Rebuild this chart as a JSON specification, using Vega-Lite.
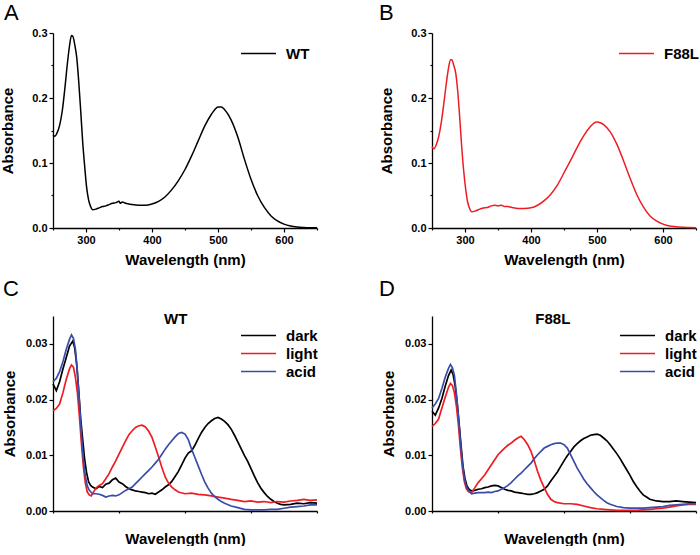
{
  "$schema": "https://vega.github.io/schema/vega-lite/v6.json",
  "background": "white",
  "padding": {"left": 0, "top": 2, "right": 0, "bottom": 0},
  "columns": 2,
  "bounds": "flush",
  "spacing": {"row": 88, "column": 115},
  "datasets": {
    "wt": [
      {"wl": 250, "abs": 0.143}, {"wl": 253, "abs": 0.141}, {"wl": 256, "abs": 0.146}, {"wl": 260, "abs": 0.158},
      {"wl": 264, "abs": 0.180}, {"wl": 268, "abs": 0.215}, {"wl": 272, "abs": 0.255}, {"wl": 275, "abs": 0.280},
      {"wl": 278, "abs": 0.296}, {"wl": 280, "abs": 0.295}, {"wl": 283, "abs": 0.282}, {"wl": 286, "abs": 0.262},
      {"wl": 289, "abs": 0.225}, {"wl": 292, "abs": 0.180}, {"wl": 295, "abs": 0.132}, {"wl": 298, "abs": 0.095},
      {"wl": 301, "abs": 0.062}, {"wl": 304, "abs": 0.043}, {"wl": 307, "abs": 0.033}, {"wl": 310, "abs": 0.028},
      {"wl": 315, "abs": 0.029}, {"wl": 320, "abs": 0.031}, {"wl": 325, "abs": 0.033}, {"wl": 330, "abs": 0.034},
      {"wl": 335, "abs": 0.036}, {"wl": 340, "abs": 0.038}, {"wl": 345, "abs": 0.039}, {"wl": 350, "abs": 0.041},
      {"wl": 352, "abs": 0.038}, {"wl": 355, "abs": 0.040}, {"wl": 360, "abs": 0.038}, {"wl": 365, "abs": 0.037},
      {"wl": 370, "abs": 0.036}, {"wl": 380, "abs": 0.035}, {"wl": 390, "abs": 0.035}, {"wl": 400, "abs": 0.037},
      {"wl": 410, "abs": 0.041}, {"wl": 420, "abs": 0.048}, {"wl": 430, "abs": 0.059}, {"wl": 440, "abs": 0.073},
      {"wl": 450, "abs": 0.090}, {"wl": 460, "abs": 0.111}, {"wl": 470, "abs": 0.134}, {"wl": 480, "abs": 0.157},
      {"wl": 490, "abs": 0.175}, {"wl": 495, "abs": 0.182}, {"wl": 500, "abs": 0.186}, {"wl": 505, "abs": 0.186},
      {"wl": 510, "abs": 0.182}, {"wl": 520, "abs": 0.166}, {"wl": 530, "abs": 0.140}, {"wl": 540, "abs": 0.106},
      {"wl": 550, "abs": 0.075}, {"wl": 560, "abs": 0.050}, {"wl": 570, "abs": 0.032}, {"wl": 580, "abs": 0.019},
      {"wl": 590, "abs": 0.011}, {"wl": 600, "abs": 0.006}, {"wl": 610, "abs": 0.003}, {"wl": 620, "abs": 0.0015},
      {"wl": 630, "abs": 0.0008}, {"wl": 640, "abs": 0.0004}, {"wl": 650, "abs": 0.0002}
    ],
    "f88l": [
      {"wl": 250, "abs": 0.125}, {"wl": 253, "abs": 0.122}, {"wl": 256, "abs": 0.127}, {"wl": 260, "abs": 0.140},
      {"wl": 264, "abs": 0.162}, {"wl": 268, "abs": 0.192}, {"wl": 272, "abs": 0.225}, {"wl": 275, "abs": 0.246},
      {"wl": 278, "abs": 0.259}, {"wl": 280, "abs": 0.259}, {"wl": 283, "abs": 0.250}, {"wl": 286, "abs": 0.238},
      {"wl": 289, "abs": 0.210}, {"wl": 292, "abs": 0.170}, {"wl": 295, "abs": 0.125}, {"wl": 298, "abs": 0.088},
      {"wl": 301, "abs": 0.060}, {"wl": 304, "abs": 0.040}, {"wl": 307, "abs": 0.030}, {"wl": 310, "abs": 0.025},
      {"wl": 315, "abs": 0.026}, {"wl": 320, "abs": 0.028}, {"wl": 325, "abs": 0.030}, {"wl": 330, "abs": 0.031},
      {"wl": 335, "abs": 0.032}, {"wl": 340, "abs": 0.034}, {"wl": 345, "abs": 0.035}, {"wl": 350, "abs": 0.034},
      {"wl": 355, "abs": 0.035}, {"wl": 360, "abs": 0.033}, {"wl": 365, "abs": 0.033}, {"wl": 370, "abs": 0.032},
      {"wl": 380, "abs": 0.030}, {"wl": 390, "abs": 0.030}, {"wl": 400, "abs": 0.031}, {"wl": 410, "abs": 0.035},
      {"wl": 420, "abs": 0.042}, {"wl": 430, "abs": 0.052}, {"wl": 440, "abs": 0.066}, {"wl": 450, "abs": 0.085},
      {"wl": 460, "abs": 0.104}, {"wl": 470, "abs": 0.124}, {"wl": 480, "abs": 0.142}, {"wl": 490, "abs": 0.156},
      {"wl": 495, "abs": 0.161}, {"wl": 500, "abs": 0.163}, {"wl": 505, "abs": 0.162}, {"wl": 510, "abs": 0.159},
      {"wl": 520, "abs": 0.148}, {"wl": 530, "abs": 0.129}, {"wl": 540, "abs": 0.104}, {"wl": 550, "abs": 0.077},
      {"wl": 560, "abs": 0.052}, {"wl": 570, "abs": 0.033}, {"wl": 580, "abs": 0.019}, {"wl": 590, "abs": 0.011},
      {"wl": 600, "abs": 0.006}, {"wl": 610, "abs": 0.003}, {"wl": 620, "abs": 0.002}, {"wl": 630, "abs": 0.001},
      {"wl": 640, "abs": 0.0006}, {"wl": 650, "abs": 0.0003}
    ],
    "wtStates": [
      {"wl": 250, "state": "dark", "abs": 0.0228}, {"wl": 255, "state": "dark", "abs": 0.0216}, {"wl": 260, "state": "dark", "abs": 0.0232},
      {"wl": 265, "state": "dark", "abs": 0.0255}, {"wl": 270, "state": "dark", "abs": 0.0275}, {"wl": 275, "state": "dark", "abs": 0.0296},
      {"wl": 280, "state": "dark", "abs": 0.0305}, {"wl": 283, "state": "dark", "abs": 0.0292}, {"wl": 286, "state": "dark", "abs": 0.0262},
      {"wl": 289, "state": "dark", "abs": 0.0215}, {"wl": 292, "state": "dark", "abs": 0.0165}, {"wl": 295, "state": "dark", "abs": 0.0128},
      {"wl": 298, "state": "dark", "abs": 0.0092}, {"wl": 301, "state": "dark", "abs": 0.0068}, {"wl": 304, "state": "dark", "abs": 0.0052},
      {"wl": 307, "state": "dark", "abs": 0.0046}, {"wl": 310, "state": "dark", "abs": 0.0043}, {"wl": 315, "state": "dark", "abs": 0.0040},
      {"wl": 320, "state": "dark", "abs": 0.0044}, {"wl": 325, "state": "dark", "abs": 0.0042}, {"wl": 330, "state": "dark", "abs": 0.0048},
      {"wl": 335, "state": "dark", "abs": 0.0050}, {"wl": 340, "state": "dark", "abs": 0.0056}, {"wl": 345, "state": "dark", "abs": 0.0059},
      {"wl": 350, "state": "dark", "abs": 0.0052}, {"wl": 355, "state": "dark", "abs": 0.0049}, {"wl": 360, "state": "dark", "abs": 0.0044},
      {"wl": 365, "state": "dark", "abs": 0.0040}, {"wl": 370, "state": "dark", "abs": 0.0038}, {"wl": 375, "state": "dark", "abs": 0.0036},
      {"wl": 380, "state": "dark", "abs": 0.0035}, {"wl": 385, "state": "dark", "abs": 0.0034}, {"wl": 390, "state": "dark", "abs": 0.0033},
      {"wl": 395, "state": "dark", "abs": 0.0031}, {"wl": 400, "state": "dark", "abs": 0.0032}, {"wl": 405, "state": "dark", "abs": 0.0030},
      {"wl": 410, "state": "dark", "abs": 0.0034}, {"wl": 415, "state": "dark", "abs": 0.0038}, {"wl": 420, "state": "dark", "abs": 0.0043},
      {"wl": 425, "state": "dark", "abs": 0.0047}, {"wl": 430, "state": "dark", "abs": 0.0053}, {"wl": 435, "state": "dark", "abs": 0.0062},
      {"wl": 440, "state": "dark", "abs": 0.0071}, {"wl": 445, "state": "dark", "abs": 0.0083}, {"wl": 450, "state": "dark", "abs": 0.0095},
      {"wl": 455, "state": "dark", "abs": 0.0104}, {"wl": 460, "state": "dark", "abs": 0.0108}, {"wl": 465, "state": "dark", "abs": 0.0118},
      {"wl": 470, "state": "dark", "abs": 0.0130}, {"wl": 475, "state": "dark", "abs": 0.0141}, {"wl": 480, "state": "dark", "abs": 0.0150},
      {"wl": 485, "state": "dark", "abs": 0.0157}, {"wl": 490, "state": "dark", "abs": 0.0162}, {"wl": 495, "state": "dark", "abs": 0.0166},
      {"wl": 500, "state": "dark", "abs": 0.0168}, {"wl": 505, "state": "dark", "abs": 0.0165}, {"wl": 510, "state": "dark", "abs": 0.0161},
      {"wl": 515, "state": "dark", "abs": 0.0155}, {"wl": 520, "state": "dark", "abs": 0.0147}, {"wl": 525, "state": "dark", "abs": 0.0136},
      {"wl": 530, "state": "dark", "abs": 0.0124}, {"wl": 535, "state": "dark", "abs": 0.0112}, {"wl": 540, "state": "dark", "abs": 0.0100},
      {"wl": 545, "state": "dark", "abs": 0.0089}, {"wl": 550, "state": "dark", "abs": 0.0076}, {"wl": 555, "state": "dark", "abs": 0.0063},
      {"wl": 560, "state": "dark", "abs": 0.0051}, {"wl": 565, "state": "dark", "abs": 0.0041}, {"wl": 570, "state": "dark", "abs": 0.0033},
      {"wl": 575, "state": "dark", "abs": 0.0026}, {"wl": 580, "state": "dark", "abs": 0.0021}, {"wl": 585, "state": "dark", "abs": 0.0017},
      {"wl": 590, "state": "dark", "abs": 0.0014}, {"wl": 595, "state": "dark", "abs": 0.0012}, {"wl": 600, "state": "dark", "abs": 0.0011},
      {"wl": 610, "state": "dark", "abs": 0.0012}, {"wl": 620, "state": "dark", "abs": 0.0014}, {"wl": 630, "state": "dark", "abs": 0.0013},
      {"wl": 640, "state": "dark", "abs": 0.0015}, {"wl": 650, "state": "dark", "abs": 0.0014},

      {"wl": 250, "state": "light", "abs": 0.0180}, {"wl": 255, "state": "light", "abs": 0.0184}, {"wl": 260, "state": "light", "abs": 0.0192},
      {"wl": 265, "state": "light", "abs": 0.0212}, {"wl": 270, "state": "light", "abs": 0.0236}, {"wl": 275, "state": "light", "abs": 0.0255},
      {"wl": 278, "state": "light", "abs": 0.0262}, {"wl": 281, "state": "light", "abs": 0.0258}, {"wl": 284, "state": "light", "abs": 0.0240},
      {"wl": 287, "state": "light", "abs": 0.0212}, {"wl": 290, "state": "light", "abs": 0.0170}, {"wl": 293, "state": "light", "abs": 0.0122},
      {"wl": 296, "state": "light", "abs": 0.0080}, {"wl": 299, "state": "light", "abs": 0.0050}, {"wl": 302, "state": "light", "abs": 0.0034},
      {"wl": 305, "state": "light", "abs": 0.0029}, {"wl": 308, "state": "light", "abs": 0.0027}, {"wl": 311, "state": "light", "abs": 0.0033},
      {"wl": 315, "state": "light", "abs": 0.0041}, {"wl": 320, "state": "light", "abs": 0.0046}, {"wl": 325, "state": "light", "abs": 0.0049},
      {"wl": 330, "state": "light", "abs": 0.0058}, {"wl": 335, "state": "light", "abs": 0.0067}, {"wl": 340, "state": "light", "abs": 0.0079},
      {"wl": 345, "state": "light", "abs": 0.0090}, {"wl": 350, "state": "light", "abs": 0.0102}, {"wl": 355, "state": "light", "abs": 0.0114},
      {"wl": 360, "state": "light", "abs": 0.0126}, {"wl": 365, "state": "light", "abs": 0.0137}, {"wl": 370, "state": "light", "abs": 0.0144},
      {"wl": 375, "state": "light", "abs": 0.0150}, {"wl": 380, "state": "light", "abs": 0.0153}, {"wl": 385, "state": "light", "abs": 0.0154},
      {"wl": 390, "state": "light", "abs": 0.0151}, {"wl": 395, "state": "light", "abs": 0.0143}, {"wl": 400, "state": "light", "abs": 0.0132},
      {"wl": 405, "state": "light", "abs": 0.0115}, {"wl": 410, "state": "light", "abs": 0.0097}, {"wl": 415, "state": "light", "abs": 0.0078},
      {"wl": 420, "state": "light", "abs": 0.0061}, {"wl": 425, "state": "light", "abs": 0.0050}, {"wl": 430, "state": "light", "abs": 0.0043},
      {"wl": 435, "state": "light", "abs": 0.0038}, {"wl": 440, "state": "light", "abs": 0.0034}, {"wl": 450, "state": "light", "abs": 0.0031},
      {"wl": 460, "state": "light", "abs": 0.0032}, {"wl": 470, "state": "light", "abs": 0.0030}, {"wl": 480, "state": "light", "abs": 0.0029},
      {"wl": 490, "state": "light", "abs": 0.0027}, {"wl": 500, "state": "light", "abs": 0.0025}, {"wl": 510, "state": "light", "abs": 0.0023},
      {"wl": 520, "state": "light", "abs": 0.0021}, {"wl": 530, "state": "light", "abs": 0.0019}, {"wl": 540, "state": "light", "abs": 0.0017},
      {"wl": 550, "state": "light", "abs": 0.0018}, {"wl": 560, "state": "light", "abs": 0.0016}, {"wl": 570, "state": "light", "abs": 0.0017},
      {"wl": 580, "state": "light", "abs": 0.0015}, {"wl": 590, "state": "light", "abs": 0.0017}, {"wl": 600, "state": "light", "abs": 0.0016},
      {"wl": 610, "state": "light", "abs": 0.0018}, {"wl": 620, "state": "light", "abs": 0.0019}, {"wl": 630, "state": "light", "abs": 0.0021},
      {"wl": 640, "state": "light", "abs": 0.0019}, {"wl": 650, "state": "light", "abs": 0.0020},

      {"wl": 250, "state": "acid", "abs": 0.0232}, {"wl": 255, "state": "acid", "abs": 0.0238}, {"wl": 260, "state": "acid", "abs": 0.0250},
      {"wl": 265, "state": "acid", "abs": 0.0268}, {"wl": 270, "state": "acid", "abs": 0.0290}, {"wl": 275, "state": "acid", "abs": 0.0308},
      {"wl": 278, "state": "acid", "abs": 0.0316}, {"wl": 281, "state": "acid", "abs": 0.0310}, {"wl": 284, "state": "acid", "abs": 0.0290},
      {"wl": 287, "state": "acid", "abs": 0.0250}, {"wl": 290, "state": "acid", "abs": 0.0195}, {"wl": 293, "state": "acid", "abs": 0.0138},
      {"wl": 296, "state": "acid", "abs": 0.0092}, {"wl": 299, "state": "acid", "abs": 0.0062}, {"wl": 302, "state": "acid", "abs": 0.0045},
      {"wl": 305, "state": "acid", "abs": 0.0037}, {"wl": 310, "state": "acid", "abs": 0.0031}, {"wl": 315, "state": "acid", "abs": 0.0031},
      {"wl": 320, "state": "acid", "abs": 0.0030}, {"wl": 325, "state": "acid", "abs": 0.0028}, {"wl": 330, "state": "acid", "abs": 0.0025},
      {"wl": 335, "state": "acid", "abs": 0.0027}, {"wl": 340, "state": "acid", "abs": 0.0028}, {"wl": 345, "state": "acid", "abs": 0.0027},
      {"wl": 350, "state": "acid", "abs": 0.0029}, {"wl": 355, "state": "acid", "abs": 0.0033}, {"wl": 360, "state": "acid", "abs": 0.0037},
      {"wl": 365, "state": "acid", "abs": 0.0040}, {"wl": 370, "state": "acid", "abs": 0.0043}, {"wl": 375, "state": "acid", "abs": 0.0049},
      {"wl": 380, "state": "acid", "abs": 0.0055}, {"wl": 385, "state": "acid", "abs": 0.0061}, {"wl": 390, "state": "acid", "abs": 0.0067},
      {"wl": 395, "state": "acid", "abs": 0.0073}, {"wl": 400, "state": "acid", "abs": 0.0079}, {"wl": 405, "state": "acid", "abs": 0.0086},
      {"wl": 410, "state": "acid", "abs": 0.0093}, {"wl": 415, "state": "acid", "abs": 0.0102}, {"wl": 420, "state": "acid", "abs": 0.0111},
      {"wl": 425, "state": "acid", "abs": 0.0119}, {"wl": 430, "state": "acid", "abs": 0.0126}, {"wl": 435, "state": "acid", "abs": 0.0133},
      {"wl": 440, "state": "acid", "abs": 0.0139}, {"wl": 445, "state": "acid", "abs": 0.0141}, {"wl": 450, "state": "acid", "abs": 0.0138},
      {"wl": 455, "state": "acid", "abs": 0.0128}, {"wl": 460, "state": "acid", "abs": 0.0111}, {"wl": 465, "state": "acid", "abs": 0.0096},
      {"wl": 470, "state": "acid", "abs": 0.0081}, {"wl": 475, "state": "acid", "abs": 0.0066}, {"wl": 480, "state": "acid", "abs": 0.0052},
      {"wl": 485, "state": "acid", "abs": 0.0041}, {"wl": 490, "state": "acid", "abs": 0.0032}, {"wl": 495, "state": "acid", "abs": 0.0026},
      {"wl": 500, "state": "acid", "abs": 0.0021}, {"wl": 505, "state": "acid", "abs": 0.0017}, {"wl": 510, "state": "acid", "abs": 0.0014},
      {"wl": 520, "state": "acid", "abs": 0.0009}, {"wl": 530, "state": "acid", "abs": 0.0006}, {"wl": 540, "state": "acid", "abs": 0.0003},
      {"wl": 550, "state": "acid", "abs": 0.0002}, {"wl": 560, "state": "acid", "abs": 0.0002}, {"wl": 570, "state": "acid", "abs": 0.0002},
      {"wl": 580, "state": "acid", "abs": 0.0003}, {"wl": 590, "state": "acid", "abs": 0.0003}, {"wl": 600, "state": "acid", "abs": 0.0005},
      {"wl": 610, "state": "acid", "abs": 0.0007}, {"wl": 620, "state": "acid", "abs": 0.0008}, {"wl": 630, "state": "acid", "abs": 0.0009},
      {"wl": 640, "state": "acid", "abs": 0.0011}, {"wl": 650, "state": "acid", "abs": 0.0011}
    ],
    "f88lStates": [
      {"wl": 250, "state": "dark", "abs": 0.0179}, {"wl": 255, "state": "dark", "abs": 0.0172}, {"wl": 260, "state": "dark", "abs": 0.0185},
      {"wl": 265, "state": "dark", "abs": 0.0202}, {"wl": 270, "state": "dark", "abs": 0.0224}, {"wl": 275, "state": "dark", "abs": 0.0243},
      {"wl": 279, "state": "dark", "abs": 0.0253}, {"wl": 282, "state": "dark", "abs": 0.0245}, {"wl": 285, "state": "dark", "abs": 0.0225},
      {"wl": 288, "state": "dark", "abs": 0.0196}, {"wl": 291, "state": "dark", "abs": 0.0158}, {"wl": 294, "state": "dark", "abs": 0.0118},
      {"wl": 297, "state": "dark", "abs": 0.0080}, {"wl": 300, "state": "dark", "abs": 0.0058}, {"wl": 303, "state": "dark", "abs": 0.0045},
      {"wl": 306, "state": "dark", "abs": 0.0039}, {"wl": 310, "state": "dark", "abs": 0.0036}, {"wl": 315, "state": "dark", "abs": 0.0037},
      {"wl": 320, "state": "dark", "abs": 0.0039}, {"wl": 325, "state": "dark", "abs": 0.0040}, {"wl": 330, "state": "dark", "abs": 0.0042},
      {"wl": 335, "state": "dark", "abs": 0.0043}, {"wl": 340, "state": "dark", "abs": 0.0045}, {"wl": 345, "state": "dark", "abs": 0.0046},
      {"wl": 350, "state": "dark", "abs": 0.0045}, {"wl": 355, "state": "dark", "abs": 0.0042}, {"wl": 360, "state": "dark", "abs": 0.0039},
      {"wl": 365, "state": "dark", "abs": 0.0037}, {"wl": 370, "state": "dark", "abs": 0.0036}, {"wl": 375, "state": "dark", "abs": 0.0034},
      {"wl": 380, "state": "dark", "abs": 0.0033}, {"wl": 385, "state": "dark", "abs": 0.0032}, {"wl": 390, "state": "dark", "abs": 0.0031},
      {"wl": 395, "state": "dark", "abs": 0.0030}, {"wl": 400, "state": "dark", "abs": 0.0030}, {"wl": 405, "state": "dark", "abs": 0.0031},
      {"wl": 410, "state": "dark", "abs": 0.0033}, {"wl": 415, "state": "dark", "abs": 0.0036}, {"wl": 420, "state": "dark", "abs": 0.0039},
      {"wl": 425, "state": "dark", "abs": 0.0045}, {"wl": 430, "state": "dark", "abs": 0.0054}, {"wl": 435, "state": "dark", "abs": 0.0062},
      {"wl": 440, "state": "dark", "abs": 0.0070}, {"wl": 445, "state": "dark", "abs": 0.0080}, {"wl": 450, "state": "dark", "abs": 0.0090},
      {"wl": 455, "state": "dark", "abs": 0.0099}, {"wl": 460, "state": "dark", "abs": 0.0107}, {"wl": 465, "state": "dark", "abs": 0.0115},
      {"wl": 470, "state": "dark", "abs": 0.0121}, {"wl": 475, "state": "dark", "abs": 0.0126}, {"wl": 480, "state": "dark", "abs": 0.0130},
      {"wl": 485, "state": "dark", "abs": 0.0133}, {"wl": 490, "state": "dark", "abs": 0.0136}, {"wl": 495, "state": "dark", "abs": 0.0137},
      {"wl": 500, "state": "dark", "abs": 0.0138}, {"wl": 505, "state": "dark", "abs": 0.0136}, {"wl": 510, "state": "dark", "abs": 0.0131},
      {"wl": 515, "state": "dark", "abs": 0.0126}, {"wl": 520, "state": "dark", "abs": 0.0119}, {"wl": 525, "state": "dark", "abs": 0.0111},
      {"wl": 530, "state": "dark", "abs": 0.0103}, {"wl": 535, "state": "dark", "abs": 0.0094}, {"wl": 540, "state": "dark", "abs": 0.0084},
      {"wl": 545, "state": "dark", "abs": 0.0074}, {"wl": 550, "state": "dark", "abs": 0.0064}, {"wl": 555, "state": "dark", "abs": 0.0053},
      {"wl": 560, "state": "dark", "abs": 0.0044}, {"wl": 565, "state": "dark", "abs": 0.0036}, {"wl": 570, "state": "dark", "abs": 0.0029},
      {"wl": 575, "state": "dark", "abs": 0.0025}, {"wl": 580, "state": "dark", "abs": 0.0021}, {"wl": 590, "state": "dark", "abs": 0.0018},
      {"wl": 600, "state": "dark", "abs": 0.0017}, {"wl": 610, "state": "dark", "abs": 0.0017}, {"wl": 620, "state": "dark", "abs": 0.0018},
      {"wl": 630, "state": "dark", "abs": 0.0017}, {"wl": 640, "state": "dark", "abs": 0.0016}, {"wl": 650, "state": "dark", "abs": 0.0015},

      {"wl": 250, "state": "light", "abs": 0.0152}, {"wl": 255, "state": "light", "abs": 0.0157}, {"wl": 260, "state": "light", "abs": 0.0165},
      {"wl": 265, "state": "light", "abs": 0.0185}, {"wl": 270, "state": "light", "abs": 0.0204}, {"wl": 275, "state": "light", "abs": 0.0222},
      {"wl": 278, "state": "light", "abs": 0.0229}, {"wl": 281, "state": "light", "abs": 0.0225}, {"wl": 284, "state": "light", "abs": 0.0212},
      {"wl": 287, "state": "light", "abs": 0.0188}, {"wl": 290, "state": "light", "abs": 0.0155}, {"wl": 293, "state": "light", "abs": 0.0113},
      {"wl": 296, "state": "light", "abs": 0.0078}, {"wl": 299, "state": "light", "abs": 0.0053}, {"wl": 302, "state": "light", "abs": 0.0040},
      {"wl": 305, "state": "light", "abs": 0.0035}, {"wl": 310, "state": "light", "abs": 0.0033}, {"wl": 315, "state": "light", "abs": 0.0042},
      {"wl": 320, "state": "light", "abs": 0.0051}, {"wl": 325, "state": "light", "abs": 0.0058}, {"wl": 330, "state": "light", "abs": 0.0065},
      {"wl": 335, "state": "light", "abs": 0.0074}, {"wl": 340, "state": "light", "abs": 0.0083}, {"wl": 345, "state": "light", "abs": 0.0092},
      {"wl": 350, "state": "light", "abs": 0.0101}, {"wl": 355, "state": "light", "abs": 0.0107}, {"wl": 360, "state": "light", "abs": 0.0113},
      {"wl": 365, "state": "light", "abs": 0.0118}, {"wl": 370, "state": "light", "abs": 0.0122}, {"wl": 375, "state": "light", "abs": 0.0127},
      {"wl": 380, "state": "light", "abs": 0.0131}, {"wl": 385, "state": "light", "abs": 0.0134}, {"wl": 390, "state": "light", "abs": 0.0128},
      {"wl": 395, "state": "light", "abs": 0.0119}, {"wl": 400, "state": "light", "abs": 0.0107}, {"wl": 405, "state": "light", "abs": 0.0090},
      {"wl": 410, "state": "light", "abs": 0.0071}, {"wl": 415, "state": "light", "abs": 0.0055}, {"wl": 420, "state": "light", "abs": 0.0042},
      {"wl": 425, "state": "light", "abs": 0.0030}, {"wl": 430, "state": "light", "abs": 0.0021}, {"wl": 435, "state": "light", "abs": 0.0017},
      {"wl": 440, "state": "light", "abs": 0.0015}, {"wl": 450, "state": "light", "abs": 0.0013}, {"wl": 460, "state": "light", "abs": 0.0013},
      {"wl": 470, "state": "light", "abs": 0.0012}, {"wl": 480, "state": "light", "abs": 0.0009}, {"wl": 490, "state": "light", "abs": 0.0006},
      {"wl": 500, "state": "light", "abs": 0.0004}, {"wl": 510, "state": "light", "abs": 0.0003}, {"wl": 520, "state": "light", "abs": 0.0002},
      {"wl": 530, "state": "light", "abs": 0.0001}, {"wl": 540, "state": "light", "abs": 0.0001}, {"wl": 550, "state": "light", "abs": 0.0001},
      {"wl": 560, "state": "light", "abs": 0.0001}, {"wl": 570, "state": "light", "abs": 0.0002}, {"wl": 580, "state": "light", "abs": 0.0003},
      {"wl": 590, "state": "light", "abs": 0.0004}, {"wl": 600, "state": "light", "abs": 0.0005}, {"wl": 610, "state": "light", "abs": 0.0007},
      {"wl": 620, "state": "light", "abs": 0.0009}, {"wl": 630, "state": "light", "abs": 0.0011}, {"wl": 640, "state": "light", "abs": 0.0012},
      {"wl": 650, "state": "light", "abs": 0.0012},

      {"wl": 250, "state": "acid", "abs": 0.0185}, {"wl": 255, "state": "acid", "abs": 0.0192}, {"wl": 260, "state": "acid", "abs": 0.0202},
      {"wl": 265, "state": "acid", "abs": 0.0220}, {"wl": 270, "state": "acid", "abs": 0.0240}, {"wl": 275, "state": "acid", "abs": 0.0256},
      {"wl": 278, "state": "acid", "abs": 0.0263}, {"wl": 281, "state": "acid", "abs": 0.0257}, {"wl": 284, "state": "acid", "abs": 0.0243},
      {"wl": 287, "state": "acid", "abs": 0.0210}, {"wl": 290, "state": "acid", "abs": 0.0170}, {"wl": 293, "state": "acid", "abs": 0.0125},
      {"wl": 296, "state": "acid", "abs": 0.0085}, {"wl": 299, "state": "acid", "abs": 0.0058}, {"wl": 302, "state": "acid", "abs": 0.0044},
      {"wl": 305, "state": "acid", "abs": 0.0037}, {"wl": 310, "state": "acid", "abs": 0.0031}, {"wl": 315, "state": "acid", "abs": 0.0032},
      {"wl": 320, "state": "acid", "abs": 0.0033}, {"wl": 325, "state": "acid", "abs": 0.0033}, {"wl": 330, "state": "acid", "abs": 0.0033},
      {"wl": 335, "state": "acid", "abs": 0.0034}, {"wl": 340, "state": "acid", "abs": 0.0033}, {"wl": 345, "state": "acid", "abs": 0.0035},
      {"wl": 350, "state": "acid", "abs": 0.0036}, {"wl": 355, "state": "acid", "abs": 0.0039}, {"wl": 360, "state": "acid", "abs": 0.0042},
      {"wl": 365, "state": "acid", "abs": 0.0046}, {"wl": 370, "state": "acid", "abs": 0.0051}, {"wl": 375, "state": "acid", "abs": 0.0057},
      {"wl": 380, "state": "acid", "abs": 0.0063}, {"wl": 385, "state": "acid", "abs": 0.0068}, {"wl": 390, "state": "acid", "abs": 0.0074},
      {"wl": 395, "state": "acid", "abs": 0.0080}, {"wl": 400, "state": "acid", "abs": 0.0086}, {"wl": 405, "state": "acid", "abs": 0.0094},
      {"wl": 410, "state": "acid", "abs": 0.0101}, {"wl": 415, "state": "acid", "abs": 0.0107}, {"wl": 420, "state": "acid", "abs": 0.0113},
      {"wl": 425, "state": "acid", "abs": 0.0116}, {"wl": 430, "state": "acid", "abs": 0.0119}, {"wl": 435, "state": "acid", "abs": 0.0121},
      {"wl": 440, "state": "acid", "abs": 0.0122}, {"wl": 445, "state": "acid", "abs": 0.0122}, {"wl": 450, "state": "acid", "abs": 0.0119},
      {"wl": 455, "state": "acid", "abs": 0.0113}, {"wl": 460, "state": "acid", "abs": 0.0101}, {"wl": 465, "state": "acid", "abs": 0.0089},
      {"wl": 470, "state": "acid", "abs": 0.0077}, {"wl": 475, "state": "acid", "abs": 0.0067}, {"wl": 480, "state": "acid", "abs": 0.0057},
      {"wl": 485, "state": "acid", "abs": 0.0049}, {"wl": 490, "state": "acid", "abs": 0.0042}, {"wl": 495, "state": "acid", "abs": 0.0035},
      {"wl": 500, "state": "acid", "abs": 0.0029}, {"wl": 505, "state": "acid", "abs": 0.0024}, {"wl": 510, "state": "acid", "abs": 0.0019},
      {"wl": 515, "state": "acid", "abs": 0.0015}, {"wl": 520, "state": "acid", "abs": 0.0012}, {"wl": 530, "state": "acid", "abs": 0.0008},
      {"wl": 540, "state": "acid", "abs": 0.0006}, {"wl": 550, "state": "acid", "abs": 0.0005}, {"wl": 560, "state": "acid", "abs": 0.0005},
      {"wl": 570, "state": "acid", "abs": 0.0005}, {"wl": 580, "state": "acid", "abs": 0.0006}, {"wl": 590, "state": "acid", "abs": 0.0007},
      {"wl": 600, "state": "acid", "abs": 0.0008}, {"wl": 610, "state": "acid", "abs": 0.0010}, {"wl": 620, "state": "acid", "abs": 0.0011},
      {"wl": 630, "state": "acid", "abs": 0.0012}, {"wl": 640, "state": "acid", "abs": 0.0013}, {"wl": 650, "state": "acid", "abs": 0.0013}
    ]
  },
  "concat": [
    {
      "title": {"text": "A", "dx": -49, "offset": 2},
      "width": 264, "height": 195,
      "data": {"name": "wt"},
      "mark": {"type": "line", "strokeWidth": 1.5, "interpolate": "monotone"},
      "encoding": {
        "x": {"field": "wl", "type": "quantitative", "scale": {"domain": [250, 650], "nice": false, "zero": false},
              "axis": {"title": "Wavelength (nm)", "titlePadding": 7, "values": [250, 300, 350, 400, 450, 500, 550, 600, 650],
                       "labelExpr": "datum.value % 100 == 0 ? datum.label : ''",
                       "tickSize": {"condition": {"test": "datum.value % 100 != 0", "value": 2}, "value": 4}}},
        "y": {"field": "abs", "type": "quantitative", "scale": {"domain": [0, 0.3], "nice": false},
              "axis": {"title": "Absorbance", "titlePadding": 16, "values": [0, 0.05, 0.1, 0.15, 0.2, 0.25, 0.3],
                       "labelExpr": "abs(datum.value * 10 - round(datum.value * 10)) < 1e-6 ? format(datum.value, '.1f') : ''",
                       "tickSize": {"condition": {"test": "abs(datum.value * 10 - round(datum.value * 10)) > 1e-6", "value": 2}, "value": 4}}},
        "color": {"datum": "WT", "type": "nominal", "scale": {"range": ["#000000"]},
                  "legend": {"orient": "none", "legendX": 198, "legendY": 13}}
      }
    },
    {
      "title": {"text": "B", "dx": -53, "offset": 2},
      "width": 264, "height": 195,
      "data": {"name": "f88l"},
      "mark": {"type": "line", "strokeWidth": 1.5, "interpolate": "monotone"},
      "encoding": {
        "x": {"field": "wl", "type": "quantitative", "scale": {"domain": [250, 650], "nice": false, "zero": false},
              "axis": {"title": "Wavelength (nm)", "titlePadding": 7, "values": [250, 300, 350, 400, 450, 500, 550, 600, 650],
                       "labelExpr": "datum.value % 100 == 0 ? datum.label : ''",
                       "tickSize": {"condition": {"test": "datum.value % 100 != 0", "value": 2}, "value": 4}}},
        "y": {"field": "abs", "type": "quantitative", "scale": {"domain": [0, 0.3], "nice": false},
              "axis": {"title": "Absorbance", "titlePadding": 16, "values": [0, 0.05, 0.1, 0.15, 0.2, 0.25, 0.3],
                       "labelExpr": "abs(datum.value * 10 - round(datum.value * 10)) < 1e-6 ? format(datum.value, '.1f') : ''",
                       "tickSize": {"condition": {"test": "abs(datum.value * 10 - round(datum.value * 10)) > 1e-6", "value": 2}, "value": 4}}},
        "color": {"datum": "F88L", "type": "nominal", "scale": {"range": ["#ee1d23"]},
                  "legend": {"orient": "none", "legendX": 197, "legendY": 13}}
      }
    },
    {
      "title": {"text": "C", "dx": -50, "offset": 11},
      "width": 264, "height": 195,
      "layer": [
        {
          "data": {"name": "wtStates"},
          "mark": {"type": "line", "strokeWidth": 1.7},
          "encoding": {
            "x": {"field": "wl", "type": "quantitative", "scale": {"domain": [250, 650], "nice": false, "zero": false},
                  "axis": {"title": "Wavelength (nm)", "titlePadding": 5, "values": [250, 300, 350, 400, 450, 500, 550, 600, 650],
                           "labelExpr": "datum.value % 100 == 0 ? datum.label : ''",
                           "tickSize": {"condition": {"test": "datum.value % 100 != 0", "value": 2}, "value": 4}}},
            "y": {"field": "abs", "type": "quantitative", "scale": {"domain": [0, 0.035], "nice": false},
                  "axis": {"title": "Absorbance", "titlePadding": 8, "values": [0, 0.005, 0.01, 0.015, 0.02, 0.025, 0.03, 0.035],
                           "labelExpr": "abs(datum.value * 100 - round(datum.value * 100)) < 1e-6 ? format(datum.value, '.2f') : ''",
                           "tickSize": {"condition": {"test": "abs(datum.value * 100 - round(datum.value * 100)) > 1e-6", "value": 2}, "value": 4}}},
            "color": {"field": "state", "type": "nominal",
                      "scale": {"domain": ["dark", "light", "acid"], "range": ["#000000", "#ee1d23", "#3b4ba8"]},
                      "legend": {"orient": "none", "legendX": 198, "legendY": 12}}
          }
        },
        {
          "data": {"values": [{"label": "WT"}]},
          "mark": {"type": "text", "fontSize": 15, "fontWeight": "bold", "baseline": "alphabetic", "align": "center", "color": "black"},
          "encoding": {
            "x": {"datum": 436, "type": "quantitative"},
            "y": {"datum": 0.0335, "type": "quantitative"},
            "text": {"field": "label"}
          }
        }
      ]
    },
    {
      "title": {"text": "D", "dx": -53, "offset": 11},
      "width": 264, "height": 195,
      "layer": [
        {
          "data": {"name": "f88lStates"},
          "mark": {"type": "line", "strokeWidth": 1.7},
          "encoding": {
            "x": {"field": "wl", "type": "quantitative", "scale": {"domain": [250, 650], "nice": false, "zero": false},
                  "axis": {"title": "Wavelength (nm)", "titlePadding": 5, "values": [250, 300, 350, 400, 450, 500, 550, 600, 650],
                           "labelExpr": "datum.value % 100 == 0 ? datum.label : ''",
                           "tickSize": {"condition": {"test": "datum.value % 100 != 0", "value": 2}, "value": 4}}},
            "y": {"field": "abs", "type": "quantitative", "scale": {"domain": [0, 0.035], "nice": false},
                  "axis": {"title": "Absorbance", "titlePadding": 8, "values": [0, 0.005, 0.01, 0.015, 0.02, 0.025, 0.03, 0.035],
                           "labelExpr": "abs(datum.value * 100 - round(datum.value * 100)) < 1e-6 ? format(datum.value, '.2f') : ''",
                           "tickSize": {"condition": {"test": "abs(datum.value * 100 - round(datum.value * 100)) > 1e-6", "value": 2}, "value": 4}}},
            "color": {"field": "state", "type": "nominal",
                      "scale": {"domain": ["dark", "light", "acid"], "range": ["#000000", "#ee1d23", "#3b4ba8"]},
                      "legend": {"orient": "none", "legendX": 198, "legendY": 12}}
          }
        },
        {
          "data": {"values": [{"label": "F88L"}]},
          "mark": {"type": "text", "fontSize": 15, "fontWeight": "bold", "baseline": "alphabetic", "align": "center", "color": "black"},
          "encoding": {
            "x": {"datum": 433, "type": "quantitative"},
            "y": {"datum": 0.0335, "type": "quantitative"},
            "text": {"field": "label"}
          }
        }
      ]
    }
  ],
  "resolve": {"scale": {"color": "independent"}},
  "config": {
    "font": "Liberation Sans",
    "view": {"stroke": null},
    "title": {"anchor": "start", "frame": "group", "fontSize": 22, "fontWeight": "normal", "font": "Liberation Sans", "color": "black"},
    "axis": {
      "grid": false, "domainColor": "black", "domainWidth": 1.3, "tickColor": "black", "tickWidth": 1.2,
      "labelColor": "black", "labelFont": "Liberation Sans", "labelFontSize": 11, "labelFontWeight": "bold", "labelPadding": 2,
      "labelOverlap": false, "labelFlush": false,
      "titleColor": "black", "titleFont": "Liberation Sans", "titleFontSize": 15, "titleFontWeight": "bold"
    },
    "legend": {
      "title": null, "padding": 0, "labelFont": "Liberation Sans", "labelFontSize": 15, "labelFontWeight": "bold",
      "labelColor": "black", "symbolType": "M-3.5,0H3.5", "symbolSize": 100, "symbolStrokeWidth": 1.5,
      "labelOffset": 20, "rowPadding": 2
    }
  }
}
